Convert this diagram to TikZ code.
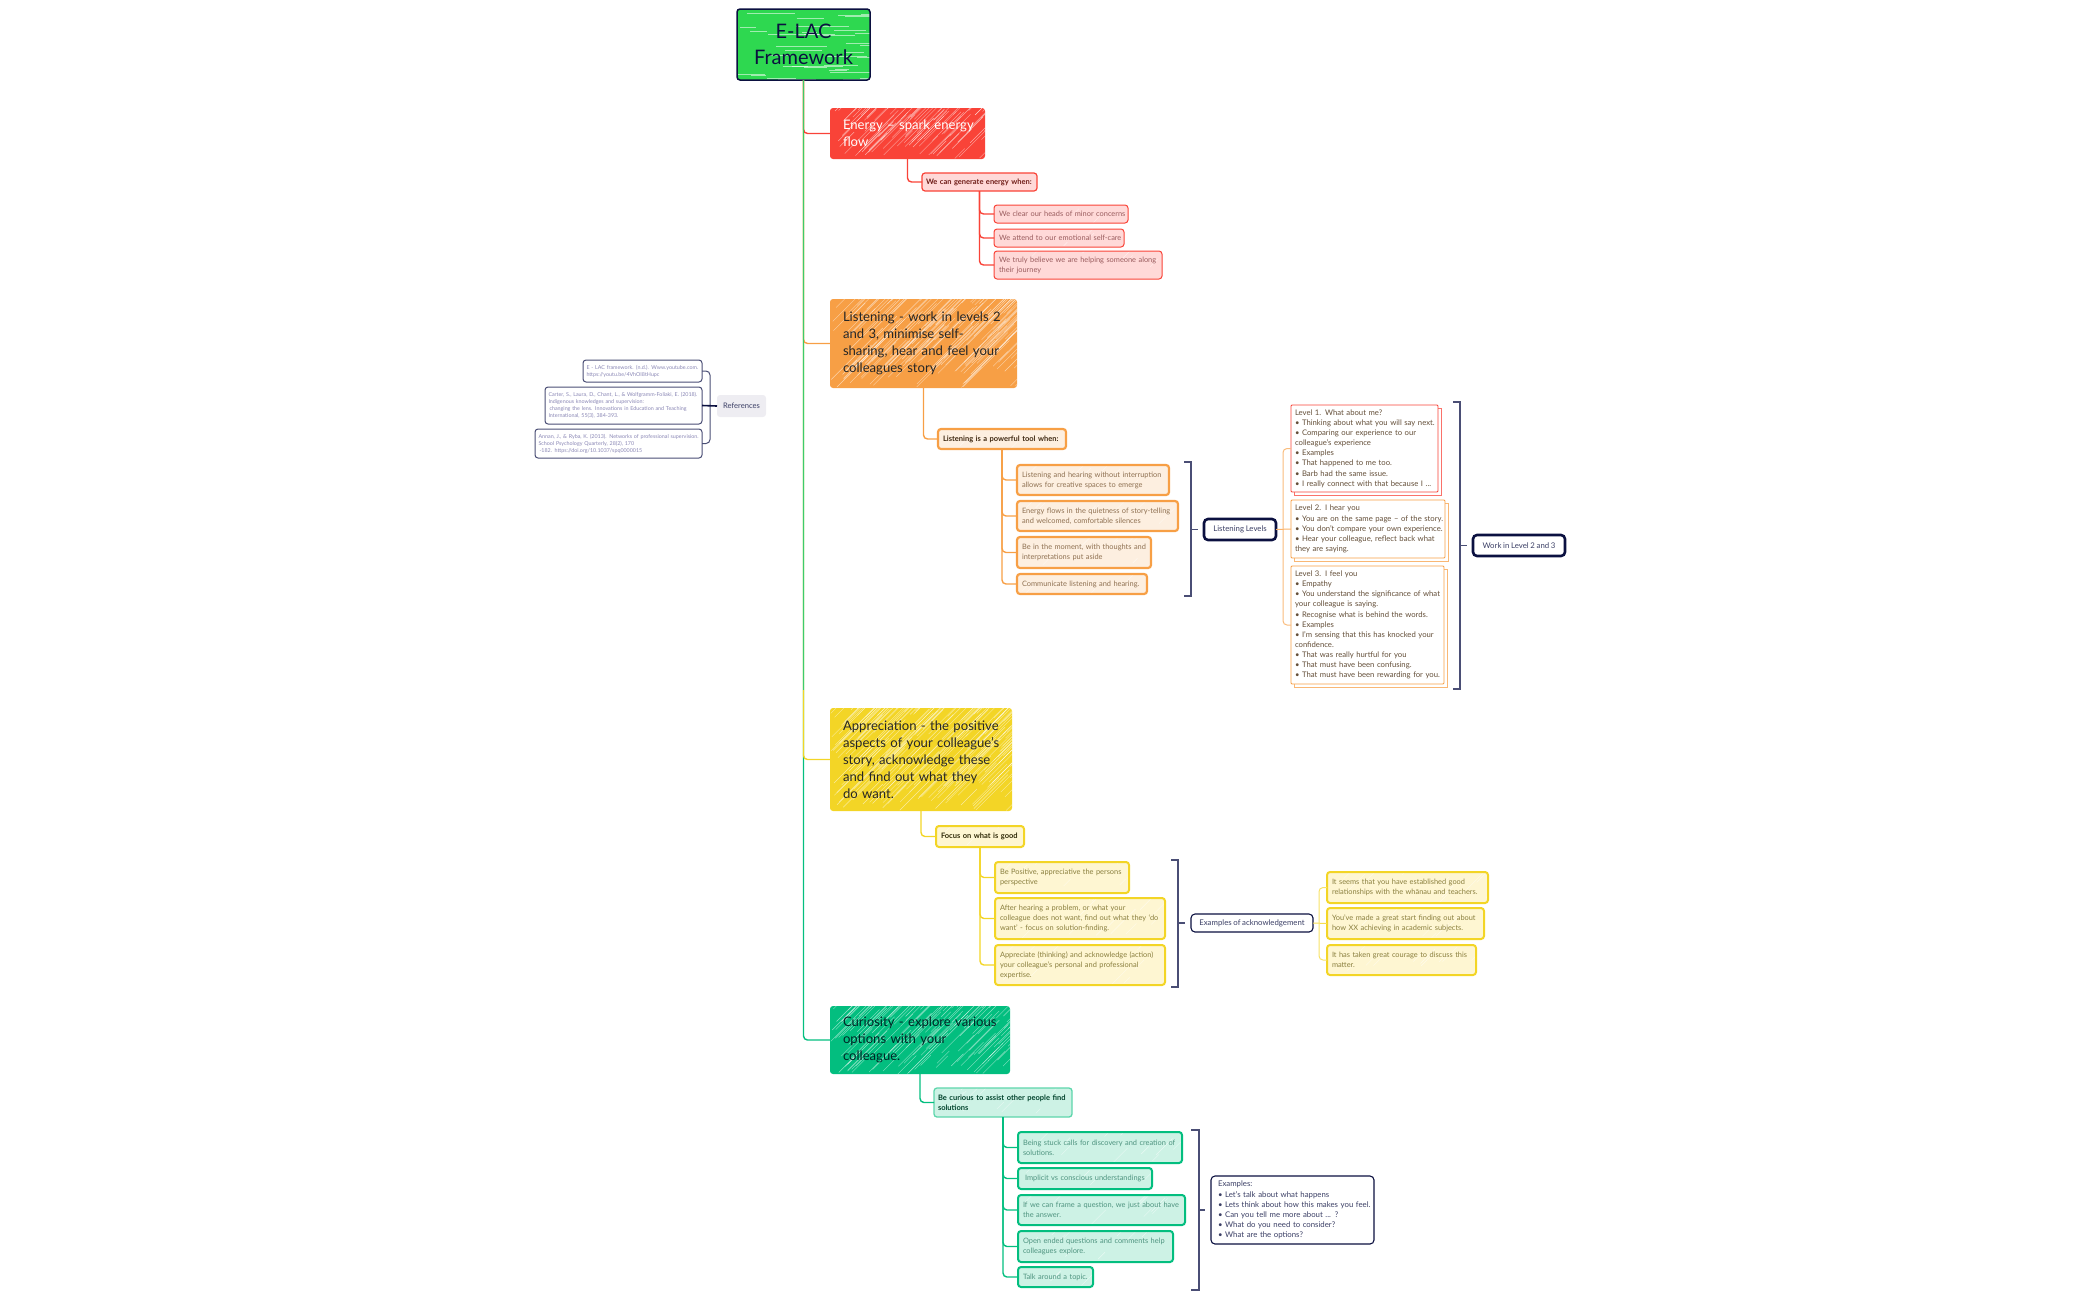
\documentclass[tikz,border=0pt]{standalone}
\usepackage{fontspec}
\setmainfont[WordSpace=0.85]{Lato}
\definecolor{navy}{HTML}{0B1040}
\definecolor{slate}{HTML}{4A4E75}
\definecolor{cgreen}{HTML}{2ED850}
\definecolor{ctrunk}{HTML}{3CCB6C}
\definecolor{cred}{HTML}{F94338}
\definecolor{cpink}{HTML}{FFD9D8}
\definecolor{corange}{HTML}{F79F45}
\definecolor{cpeach}{HTML}{FDEFE0}
\definecolor{cyellow}{HTML}{F3D526}
\definecolor{ccream}{HTML}{FEF6D2}
\definecolor{cteal}{HTML}{03BE7F}
\definecolor{cmint}{HTML}{CDF2E5}
\definecolor{cmintline}{HTML}{5DD6AC}
\definecolor{cgrey}{HTML}{EEEDF2}
\definecolor{tred}{HTML}{9A5C5E}
\definecolor{torange}{HTML}{8F7152}
\definecolor{tyellow}{HTML}{8A7F3E}
\definecolor{tteal}{HTML}{4F9480}
\definecolor{tref}{HTML}{8A87B5}
\tikzset{
  basebox/.style={rectangle,outer sep=0pt,inner ysep=0pt,align=left,
    /utils/exec={\def\padx{4}\def\nowrap{\rightskip=-200pt plus 1fil\relax}}},
  rootbox/.style={basebox,draw=navy,line width=1.5pt,rounded corners=3pt,text=navy,align=center,
    /utils/exec={\let\nowrap\relax},font=\fontsize{20}{26}\selectfont},
  topicbox/.style={basebox,rounded corners=5pt,/utils/exec={\def\padx{13}},
    font=\fontsize{13.1}{17}\selectfont},
  subbox/.style={basebox,rounded corners=3pt,/utils/exec={\def\padx{5}},font=\fontsize{7.5}{10.1}\selectfont\bfseries},
  leafbox/.style={basebox,rounded corners=3pt,/utils/exec={\def\padx{5}},font=\fontsize{7.4}{10.1}\selectfont},
  levelbox/.style={basebox,line width=.8pt,rounded corners=1pt,fill=white,/utils/exec={\def\padx{4}},
    font=\fontsize{7.7}{10.14}\selectfont},
  navybox/.style={basebox,fill=white,draw=navy,rounded corners=4pt,text=navy!80!white,font=\fontsize{7.8}{10.1}\selectfont},
  refbox/.style={basebox,fill=white,draw=slate,line width=1pt,rounded corners=3pt,text=tref,
    /utils/exec={\def\padx{3.5}},font=\fontsize{5.35}{7}\selectfont},
  link/.style={line width=1.4pt,rounded corners=4pt,fill=none},
  bracketline/.style={draw=slate,line width=1.3pt,fill=none}
}
\def\hdx{1}\def\hdy{-1}\def\hlen{1}
% name x0 y0 x1 y1 style fill n text
\newcommand\tbox[9]{%
  \pgfmathsetmacro\bw{#4-#2}\pgfmathsetmacro\bh{#5-#3}%
  \fill[#7,rounded corners=3pt] (#2,#3) rectangle (#4,#5);
  \ifnum#8>0
  \begin{scope}
    \clip[rounded corners=3pt] (#2,#3) rectangle (#4,#5);
    \foreach \i in {1,...,#8}{
      \pgfmathsetmacro\ra{#2+rnd*\bw}
      \pgfmathsetmacro\rb{#3+rnd*\bh}
      \pgfmathsetmacro\rl{\hlen*\bh*(0.15+0.45*rnd)}
      \draw[white,line width=.4pt,opacity=.55] (\ra,\rb) -- ++(\hdx*\rl,\hdy*\rl);
    }
  \end{scope}
  \fi
  \node[#6,anchor=north west,minimum width=\bw pt,minimum height=\bh pt,
    inner xsep=\padx pt,text width={\bw pt-2*\padx pt}] (#1) at (#2,#3) {\nowrap #9\par};
}
% level box: stacked copy behind
\newcommand\lvbox[7]{%
  \pgfmathsetmacro\bw{#4-#2}\pgfmathsetmacro\bh{#5-#3}%
  \draw[draw=#6!75!white,line width=.8pt,fill=white] (#2+3,#3+3) rectangle (#4+3,#5+3);
  \node[levelbox,draw=#6,text=torange!70!black,anchor=north west,minimum width=\bw pt,minimum height=\bh pt,
    inner xsep=\padx pt,text width={\bw pt-2*\padx pt}] (#1) at (#2,#3) {\nowrap #7\par};
}
\newcommand\bracketto[5]{% x0 x1 y0 y1 target
  \draw[bracketline] (#1,#3) -- (#2,#3) -- (#2,#4) -- (#1,#4);
  \coordinate (tickstart) at (#2,#3);
  \draw[bracketline] (tickstart |- #5.west) -- ([xshift=-6pt]#5.west);
}
\begin{document}
\begin{tikzpicture}[x=1pt,y=-1pt]
\useasboundingbox (0,0) rectangle (2100,1299);
\pgfmathsetseed{4711}
% ---------- nodes
\begingroup\def\hdx{1}\def\hdy{0}\def\hlen{1.3}
\tbox{root}{737}{9}{870}{80}{rootbox}{cgreen}{35}{E-LAC\\Framework}
\endgroup
\tbox{energy}{830}{108}{985}{159}{topicbox,text=white}{cred}{100}{Energy – spark energy\\flow}
\tbox{eA}{922}{173}{1037}{191}{subbox,/utils/exec={\def\padx{4}},draw=cred,line width=1.2pt,text=cred!45!black}{cpink}{0}{We can generate energy when:}
\tbox{eB}{994}{205}{1128}{223}{leafbox,draw=cred,line width=1pt,text=tred}{cpink}{3}{We clear our heads of minor concerns}
\tbox{eC}{994}{229}{1124}{247}{leafbox,draw=cred,line width=1pt,text=tred}{cpink}{3}{We attend to our emotional self-care}
\tbox{eD}{994}{251}{1162}{279}{leafbox,draw=cred,line width=1pt,text=tred}{cpink}{5}{We truly believe we are helping someone along\\their journey}

\tbox{listen}{830}{299}{1017}{388}{topicbox,text=black!85}{corange}{170}{Listening - work in levels 2\\and 3, minimise self-\\sharing, hear and feel your\\colleagues story}
\tbox{lA}{938}{429}{1066}{449}{subbox,draw=corange,line width=2.2pt,text=corange!25!black}{cpeach}{3}{Listening is a powerful tool when:}
\tbox{lB}{1017}{465}{1169}{495}{leafbox,draw=corange,line width=2.2pt,text=torange}{cpeach}{10}{Listening and hearing without interruption\\allows for creative spaces to emerge}
\tbox{lC}{1017}{501}{1178}{531}{leafbox,draw=corange,line width=2.2pt,text=torange}{cpeach}{10}{Energy flows in the quietness of story-telling\\and welcomed, comfortable silences}
\tbox{lD}{1017}{537}{1151}{568}{leafbox,draw=corange,line width=2.2pt,text=torange}{cpeach}{10}{Be in the moment, with thoughts and\\interpretations put aside}
\tbox{lE}{1017}{574}{1147}{594}{leafbox,draw=corange,line width=2.2pt,text=torange}{cpeach}{6}{Communicate listening and hearing.}
\node[navybox,line width=2.6pt,anchor=north west,minimum width=72pt,minimum height=21pt] (levels) at (1204,519) {Listening Levels};
\lvbox{lvA}{1291}{405}{1438}{492}{cred}{Level 1. What about me?\\• Thinking about what you will say next.\\• Comparing our experience to our\\colleague’s experience\\• Examples\\• That happened to me too.\\• Barb had the same issue.\\• I really connect with that because I ...}
\lvbox{lvB}{1291}{500}{1445}{558}{corange}{Level 2. I hear you\\• You are on the same page – of the story.\\• You don’t compare your own experience.\\• Hear your colleague, reflect back what\\they are saying.}
\lvbox{lvC}{1291}{566}{1444}{684}{corange}{Level 3. I feel you\\• Empathy\\• You understand the significance of what\\your colleague is saying.\\• Recognise what is behind the words.\\• Examples\\• I’m sensing that this has knocked your\\confidence.\\• That was really hurtful for you\\• That must have been confusing.\\• That must have been rewarding for you.}
\node[navybox,line width=2.6pt,anchor=north west,minimum width=92pt,minimum height=21pt] (work) at (1473,535) {Work in Level 2 and 3};

\tbox{appr}{830}{708}{1012}{811}{topicbox,text=black!85}{cyellow}{190}{Appreciation - the positive\\aspects of your colleague’s\\story, acknowledge these\\and find out what they\\do want.}
\tbox{aA}{936}{826}{1024}{847}{subbox,draw=cyellow,line width=2pt,text=cyellow!20!black}{ccream}{4}{Focus on what is good}
\tbox{aB}{995}{862}{1129}{893}{leafbox,draw=cyellow,line width=2pt,text=tyellow}{ccream}{10}{Be Positive, appreciative the persons\\perspective}
\tbox{aC}{995}{898}{1165}{939}{leafbox,draw=cyellow,line width=2pt,text=tyellow}{ccream}{14}{After hearing a problem, or what your\\colleague does not want, find out what they ‘do\\want’ - focus on solution-finding.}
\tbox{aD}{995}{945}{1165}{985}{leafbox,draw=cyellow,line width=2pt,text=tyellow}{ccream}{14}{Appreciate (thinking) and acknowledge (action)\\your colleague’s personal and professional\\expertise.}
\node[navybox,line width=1.1pt,anchor=north west,minimum width=122pt,minimum height=18pt] (exA) at (1191,914) {Examples of acknowledgement};
\tbox{xA}{1327}{872}{1488}{903}{leafbox,draw=cyellow,line width=2pt,text=tyellow}{ccream}{10}{It seems that you have established good\\relationships with the  whānau and teachers.}
\tbox{xB}{1327}{908}{1484}{939}{leafbox,draw=cyellow,line width=2pt,text=tyellow}{ccream}{10}{You’ve made a great start finding out about\\how XX achieving in academic subjects.}
\tbox{xC}{1327}{945}{1476}{975}{leafbox,draw=cyellow,line width=2pt,text=tyellow}{ccream}{10}{It has taken great courage to discuss this\\matter.}

\tbox{cur}{830}{1006}{1010}{1074}{topicbox,text=teal!30!black}{cteal}{130}{Curiosity - explore various\\options with your\\colleague.}
\tbox{cA}{934}{1088}{1072}{1117}{subbox,/utils/exec={\def\padx{4}},draw=cmintline,line width=1.3pt,text=cteal!35!black}{cmint}{10}{Be curious to assist other people find\\solutions}
\tbox{cB}{1018}{1132}{1182}{1163}{leafbox,draw=cteal,line width=2pt,text=tteal}{cmint}{10}{Being stuck calls for discovery and creation of\\solutions.}
\tbox{cC}{1018}{1168}{1152}{1189}{leafbox,draw=cteal,line width=2pt,text=tteal}{cmint}{5}{\hspace{2pt}Implicit vs conscious understandings}
\tbox{cD}{1018}{1195}{1185}{1225}{leafbox,draw=cteal,line width=2pt,text=tteal}{cmint}{10}{If we can frame a question, we just about have\\the answer.}
\tbox{cE}{1018}{1231}{1173}{1262}{leafbox,draw=cteal,line width=2pt,text=tteal}{cmint}{10}{Open ended questions and comments help\\colleagues explore.}
\tbox{cF}{1018}{1267}{1093}{1287}{leafbox,draw=cteal,line width=2pt,text=tteal}{cmint}{3}{Talk around a topic.}
\node[navybox,line width=1.1pt,anchor=north west,minimum width=163pt,minimum height=68pt,text width=149pt,inner xsep=7pt] (exB) at (1211,1176) {\nowrap Examples:\\• Let’s talk about what happens\\• Lets think about how this makes you feel.\\• Can you tell me more about ... ?\\• What do you need to consider?\\• What are the options?\par};

\node[basebox,fill=cgrey,rounded corners=3pt,text=navy!80!white,anchor=north west,minimum width=49pt,minimum height=22pt,font=\fontsize{7.6}{10}\selectfont,align=center] (refs) at (717,395) {References};
\tbox{rA}{583}{360}{702}{382}{refbox}{white}{0}{E - LAC framework. (n.d.). Www.youtube.com.\\https://youtu.be/4VhOI8tHupc}
\tbox{rB}{545}{387}{702}{424}{refbox}{white}{0}{Carter, S., Laura, D., Chant, L., \& Wolfgramm-Foliaki, E. (2018).\\Indigenous knowledges and supervision:\\\hspace{1pt}changing the lens. Innovations in Education and Teaching\\International, 55(3), 384-393.}
\tbox{rC}{535}{429}{702}{458}{refbox}{white}{0}{Annan, J., \& Ryba, K. (2013). Networks of professional supervision.\\School Psychology Quarterly, 28(2), 170\\\hspace{1pt}-182. https://doi.org/10.1037/spq0000015}

% ---------- connectors
\coordinate (lvtrunk) at (1283,529);
\coordinate (xtrunk) at (1319,923);
\coordinate (rtrunk) at (710,406);
\draw[link,draw=cteal] (root.south) |- (cur.west);
\draw[link,draw=cyellow] (root.south) |- (appr.west);
\draw[link,draw=corange] (root.south) |- (listen.west);
\draw[link,draw=cred] (root.south) |- (energy.west);
\coordinate (trunkfade) at (803.5,690);
\draw[line width=1.6pt,draw=ctrunk] (root.south) -- (trunkfade);

\draw[link,draw=cred] (energy.south) |- (eA.west);
\foreach \c in {eB,eC,eD}{\draw[link,draw=cred] (eA.south) |- (\c.west);}
\draw[link,draw=corange] (listen.south) |- (lA.west);
\foreach \c in {lB,lC,lD,lE}{\draw[link,draw=corange] (lA.south) |- (\c.west);}
\draw[link,draw=cyellow] (appr.south) |- (aA.west);
\foreach \c in {aB,aC,aD}{\draw[link,draw=cyellow] (aA.south) |- (\c.west);}
\draw[link,draw=cteal] (cur.south) |- (cA.west);
\foreach \c in {cB,cC,cD,cE,cF}{\draw[link,draw=cteal] (cA.south) |- (\c.west);}

\draw[link,line width=1pt,draw=corange!80!white] (levels.east) -- (lvB.west);
\draw[link,line width=1pt,draw=corange!70!white] (lvA.west) -| (lvtrunk) |- (lvC.west);
\draw[link,line width=1pt,draw=cyellow!80!white] (exA.east) -- (xB.west);
\draw[link,line width=1pt,draw=cyellow!70!white] (xA.west) -| (xtrunk) |- (xC.west);
\draw[link,line width=1pt,draw=slate] (rA.east) -| (rtrunk) |- (rC.east);
\draw[line width=1.6pt,draw=navy] (rB.east) -- (refs.west);
\bracketto{1184}{1191}{462}{596}{levels}
\bracketto{1453}{1460}{402}{689}{work}
\bracketto{1171}{1178}{860}{987}{exA}
\bracketto{1191}{1199}{1130}{1290}{exB}
\end{tikzpicture}
\end{document}
